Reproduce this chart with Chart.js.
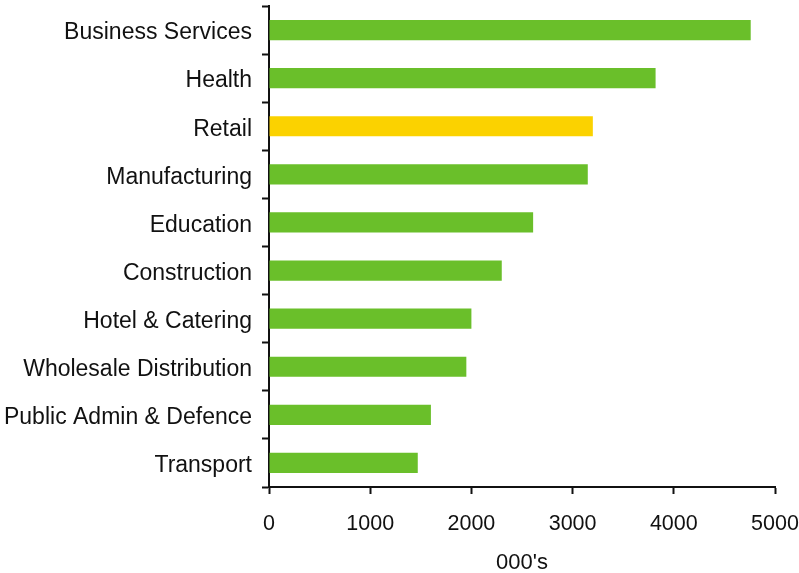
<!DOCTYPE html>
<html>
<head>
<meta charset="utf-8">
<script src="https://cdn.jsdelivr.net/npm/chart.js@4.4.0/dist/chart.umd.min.js"></script>
<style>
  html, body { margin: 0; padding: 0; background: #fff; }
  #wrap { width: 799px; height: 573px; position: relative; }
</style>
</head>
<body>
<div id="wrap"><canvas id="sectorChart"></canvas></div>
<script>
// Employment by sector, thousands
const sectors = [
    'Business Services', 'Health', 'Retail', 'Manufacturing', 'Education',
    'Construction', 'Hotel & Catering', 'Wholesale Distribution',
    'Public Admin & Defence', 'Transport'
];
const jobs = [4760, 3820, 3200, 3150, 2610, 2300, 2000, 1950, 1600, 1470];
const highlight = 'Retail';
const xTicks = [0, 1000, 2000, 3000, 4000, 5000];

const GREEN = '#6abf2a';
const YELLOW = '#fbd200';
const INK = '#111111';
const FAMILY = 'Liberation Sans, Arial, sans-serif';

const ctx = document.getElementById('sectorChart').getContext('2d');

new Chart(ctx, {
    type: 'bar',
    data: {
        labels: sectors,
        datasets: [{
            data: jobs,
            backgroundColor: sectors.map(s => s === highlight ? YELLOW : GREEN),
            borderWidth: 0,
            barPercentage: 0.42,
            categoryPercentage: 1
        }]
    },
    options: {
        indexAxis: 'y',
        responsive: true,
        maintainAspectRatio: false,
        animation: false,
        layout: { padding: { top: 6, right: 0, left: 0, bottom: 0 } },
        plugins: {
            legend: { display: false },
            tooltip: { enabled: false }
        },
        scales: {
            y: {
                offset: true,
                grid: {
                    offset: true,
                    drawOnChartArea: false,
                    drawTicks: true,
                    tickLength: 7,
                    tickWidth: 2,
                    color: INK
                },
                border: { display: true, color: INK, width: 2 },
                ticks: {
                    color: INK,
                    font: { family: FAMILY, size: 23 },
                    padding: 10,
                    labelOffset: 3
                },
                afterFit(axis) {
                    axis.width = 269;
                    axis.paddingTop = 0;
                    axis.paddingBottom = 0;
                }
            },
            x: {
                min: 0,
                max: 5000,
                afterBuildTicks(axis) { axis.ticks = xTicks.map(v => ({ value: v })); },
                grid: {
                    drawOnChartArea: false,
                    drawTicks: true,
                    tickLength: 7,
                    tickWidth: 2,
                    color: INK
                },
                border: { display: true, color: INK, width: 2 },
                ticks: {
                    color: INK,
                    font: { family: FAMILY, size: 21.5 },
                    padding: 17,
                    maxRotation: 0,
                    callback: v => String(v)
                },
                title: {
                    display: true,
                    text: "000's",
                    color: INK,
                    font: { family: FAMILY, size: 22 },
                    padding: { top: 10, bottom: -3 }
                },
                afterFit(axis) {
                    axis.height = 86;
                    axis.paddingLeft = 0;
                    axis.paddingRight = 24;
                }
            }
        }
    }
});
</script>
</body>
</html>
